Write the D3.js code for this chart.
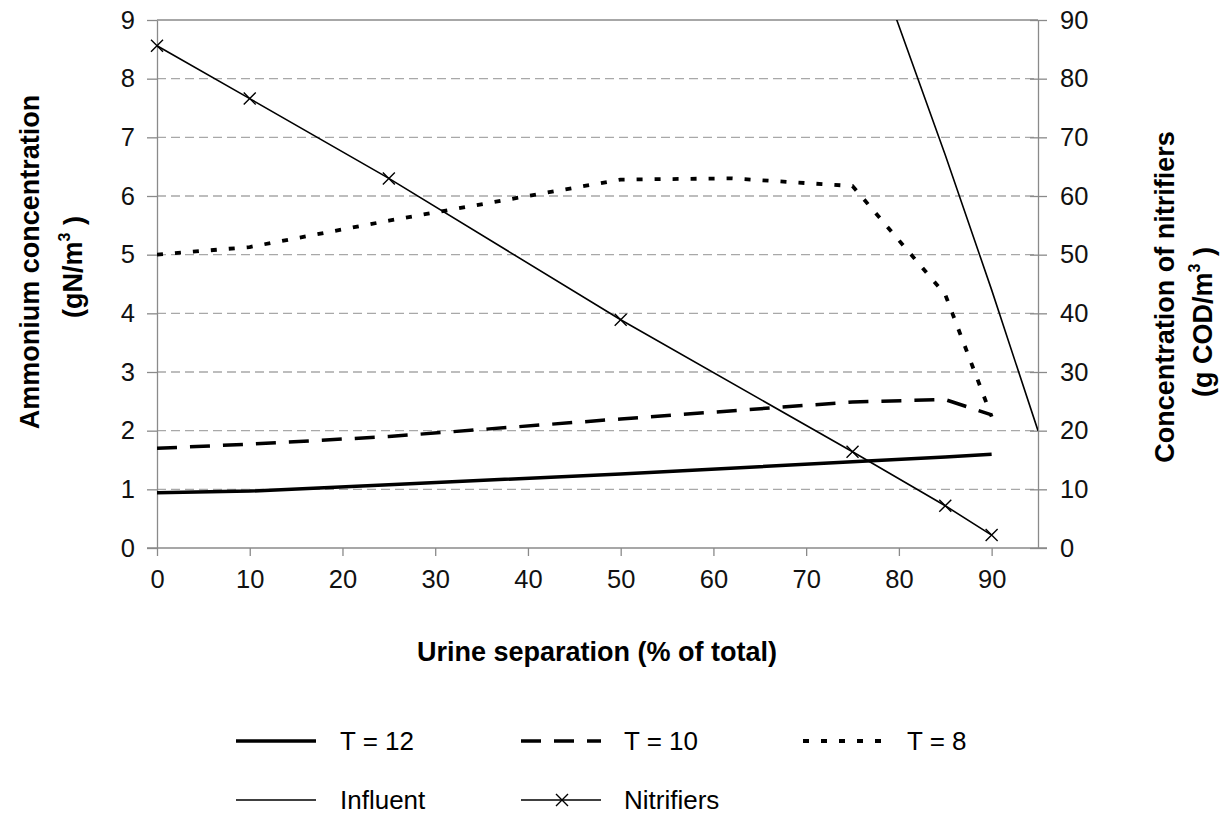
<!DOCTYPE html>
<html>
<head>
<meta charset="utf-8">
<script src="https://cdn.jsdelivr.net/npm/d3@7"></script>
<style>
  html, body { margin: 0; padding: 0; background: #fff; }
  svg { display: block; font-family: "Liberation Sans", Arial, sans-serif; }
</style>
</head>
<body>
<svg id="chart" width="1223" height="823"></svg>
<script>
// ---- data ----
const xTicks = [0, 10, 20, 30, 40, 50, 60, 70, 80, 90];
const yLeftTicks = [0, 1, 2, 3, 4, 5, 6, 7, 8, 9];
const yRightTicks = [0, 10, 20, 30, 40, 50, 60, 70, 80, 90];

const separation = [0, 10, 25, 50, 75, 85, 90];
const t12 = [0.94, 0.97, 1.08, 1.26, 1.47, 1.55, 1.60];
const t10 = [1.70, 1.77, 1.90, 2.20, 2.49, 2.53, 2.27];
const t8Sep = [0, 10, 25, 50, 62, 75, 85, 90];
const t8 = [5.00, 5.13, 5.58, 6.28, 6.30, 6.17, 4.32, 2.24];
const nitrifiers = [85.6, 76.6, 63.0, 38.9, 16.4, 7.2, 2.2];
const influentSep = [75, 85, 90, 95];
const influent = [11.1, 6.7, 4.4, 2.0];

const legendRow1 = ["T = 12", "T = 10", "T = 8"];
const legendRow2 = ["Influent", "Nitrifiers"];

// ---- layout ----
const svg = d3.select("#chart");
const L = 157, R = 1038, T = 20, B = 548;
const x = d3.scaleLinear().domain([0, 95]).range([L, R]);
const yL = d3.scaleLinear().domain([0, 9]).range([B, T]);
const yR = d3.scaleLinear().domain([0, 90]).range([B, T]);
const axisColor = "#8a8a8a";

svg.append("rect").attr("width", 1223).attr("height", 823).attr("fill", "#fff");

// gridlines
svg.append("g").selectAll("line").data(yLeftTicks.filter(d => d > 0 && d < 9)).join("line")
  .attr("x1", L).attr("x2", R).attr("y1", d => yL(d)).attr("y2", d => yL(d))
  .attr("stroke", "#a8a8a8").attr("stroke-width", 1.3).attr("stroke-dasharray", "9,5");
// top border
svg.append("line").attr("x1", L).attr("x2", R).attr("y1", yL(9)).attr("y2", yL(9))
  .attr("stroke", axisColor).attr("stroke-width", 1.3);

// axes
const styleAxis = g => {
  g.selectAll(".domain").attr("stroke", axisColor).attr("stroke-width", 1.3);
  g.selectAll(".tick line").attr("stroke", axisColor).attr("stroke-width", 1.3);
  g.selectAll(".tick text").attr("fill", "#111").style("font-size", "25.5px")
    .style("font-family", "'Liberation Sans', Arial, sans-serif");
};
const gL = svg.append("g").attr("transform", `translate(${L},0)`)
  .call(d3.axisLeft(yL).tickValues(yLeftTicks).tickSize(10).tickSizeOuter(0).tickPadding(12))
  .call(styleAxis);
const gR = svg.append("g").attr("transform", `translate(${R},0)`)
  .call(d3.axisRight(yR).tickValues(yRightTicks).tickSize(9).tickSizeOuter(0).tickPadding(13))
  .call(styleAxis);
gR.selectAll(".tick line").attr("x1", -8).attr("x2", 9);
const gB = svg.append("g").attr("transform", `translate(0,${B})`)
  .call(d3.axisBottom(x).tickValues(xTicks).tickSize(8).tickSizeOuter(0).tickPadding(14))
  .call(styleAxis);
gB.select(".domain").attr("d", `M${L - 10},0H${R + 9}`);

// clip
svg.append("clipPath").attr("id", "plotclip").append("rect")
  .attr("x", L).attr("y", T).attr("width", R - L).attr("height", B - T);
const plot = svg.append("g").attr("clip-path", "url(#plotclip)");

const lineL = d3.line().x(d => x(d[0])).y(d => yL(d[1]));
const lineR = d3.line().x(d => x(d[0])).y(d => yR(d[1]));

const styles = {
  t12: { w: 3.5, dash: null },
  t10: { w: 3.5, dash: "20,13" },
  t8: { w: 3.8, dash: "6,12" },
  thin: { w: 1.6, dash: null }
};

plot.append("path").datum(d3.zip(influentSep, influent)).attr("d", lineL)
  .attr("fill", "none").attr("stroke", "#000").attr("stroke-width", styles.thin.w);
plot.append("path").datum(d3.zip(separation, t12)).attr("d", lineL)
  .attr("fill", "none").attr("stroke", "#000").attr("stroke-width", styles.t12.w);
plot.append("path").datum(d3.zip(separation, t10)).attr("d", lineL)
  .attr("fill", "none").attr("stroke", "#000").attr("stroke-width", styles.t10.w)
  .attr("stroke-dasharray", styles.t10.dash);
plot.append("path").datum(d3.zip(t8Sep, t8)).attr("d", lineL)
  .attr("fill", "none").attr("stroke", "#000").attr("stroke-width", styles.t8.w)
  .attr("stroke-dasharray", styles.t8.dash);
plot.append("path").datum(d3.zip(separation, nitrifiers)).attr("d", lineR)
  .attr("fill", "none").attr("stroke", "#000").attr("stroke-width", styles.thin.w);

const cross = (g, cx, cy, s) => {
  g.append("path").attr("d", `M${cx - s},${cy - s}L${cx + s},${cy + s}M${cx - s},${cy + s}L${cx + s},${cy - s}`)
    .attr("stroke", "#000").attr("stroke-width", 1.4).attr("fill", "none");
};
const mk = svg.append("g");
d3.zip(separation, nitrifiers).forEach(d => cross(mk, x(d[0]), yR(d[1]), 6));

// axis titles
const titleStyle = t => t.attr("font-weight", "bold").attr("font-size", 27).attr("fill", "#000")
  .attr("text-anchor", "middle").attr("dy", "0.35em");
svg.append("text").attr("transform", `translate(597,652)`).text("Urine separation (% of total)").call(titleStyle);

const leftT1 = svg.append("text").attr("transform", "translate(30,262) rotate(-90)")
  .text("Ammonium concentration").call(titleStyle);
const leftT2 = svg.append("text").attr("transform", "translate(73,267) rotate(-90)").call(titleStyle);
leftT2.append("tspan").text("(gN/m");
leftT2.append("tspan").text("3").attr("font-size", 16).attr("dy", "-0.75em");
leftT2.append("tspan").text(" )").attr("dy", "0.47em");

const rightT1 = svg.append("text").attr("transform", "translate(1165,297) rotate(-90)")
  .text("Concentration of nitrifiers").call(titleStyle);
const rightT2 = svg.append("text").attr("transform", "translate(1203,322) rotate(-90)").call(titleStyle);
rightT2.append("tspan").text("(g COD/m");
rightT2.append("tspan").text("3").attr("font-size", 16).attr("dy", "-0.75em");
rightT2.append("tspan").text(" )").attr("dy", "0.47em");

// legend
const lg = svg.append("g");
const row1Y = 741, row2Y = 800;
const sampleX = [236, 521, 803];
const textX = [340, 624, 907];
const row1Styles = [styles.t12, styles.t10, styles.t8];
legendRow1.forEach((name, i) => {
  lg.append("line").attr("x1", sampleX[i]).attr("x2", sampleX[i] + 80)
    .attr("y1", row1Y).attr("y2", row1Y).attr("stroke", "#000")
    .attr("stroke-width", row1Styles[i].w).attr("stroke-dasharray", row1Styles[i].dash);
  lg.append("text").attr("x", textX[i]).attr("y", row1Y).attr("dy", "0.35em")
    .attr("font-size", 26).text(name);
});
legendRow2.forEach((name, i) => {
  lg.append("line").attr("x1", sampleX[i]).attr("x2", sampleX[i] + 80)
    .attr("y1", row2Y).attr("y2", row2Y).attr("stroke", "#000").attr("stroke-width", styles.thin.w);
  if (name === "Nitrifiers") cross(lg, sampleX[i] + 41, row2Y, 6);
  lg.append("text").attr("x", textX[i]).attr("y", row2Y).attr("dy", "0.35em")
    .attr("font-size", 26).text(name);
});
</script>
</body>
</html>
